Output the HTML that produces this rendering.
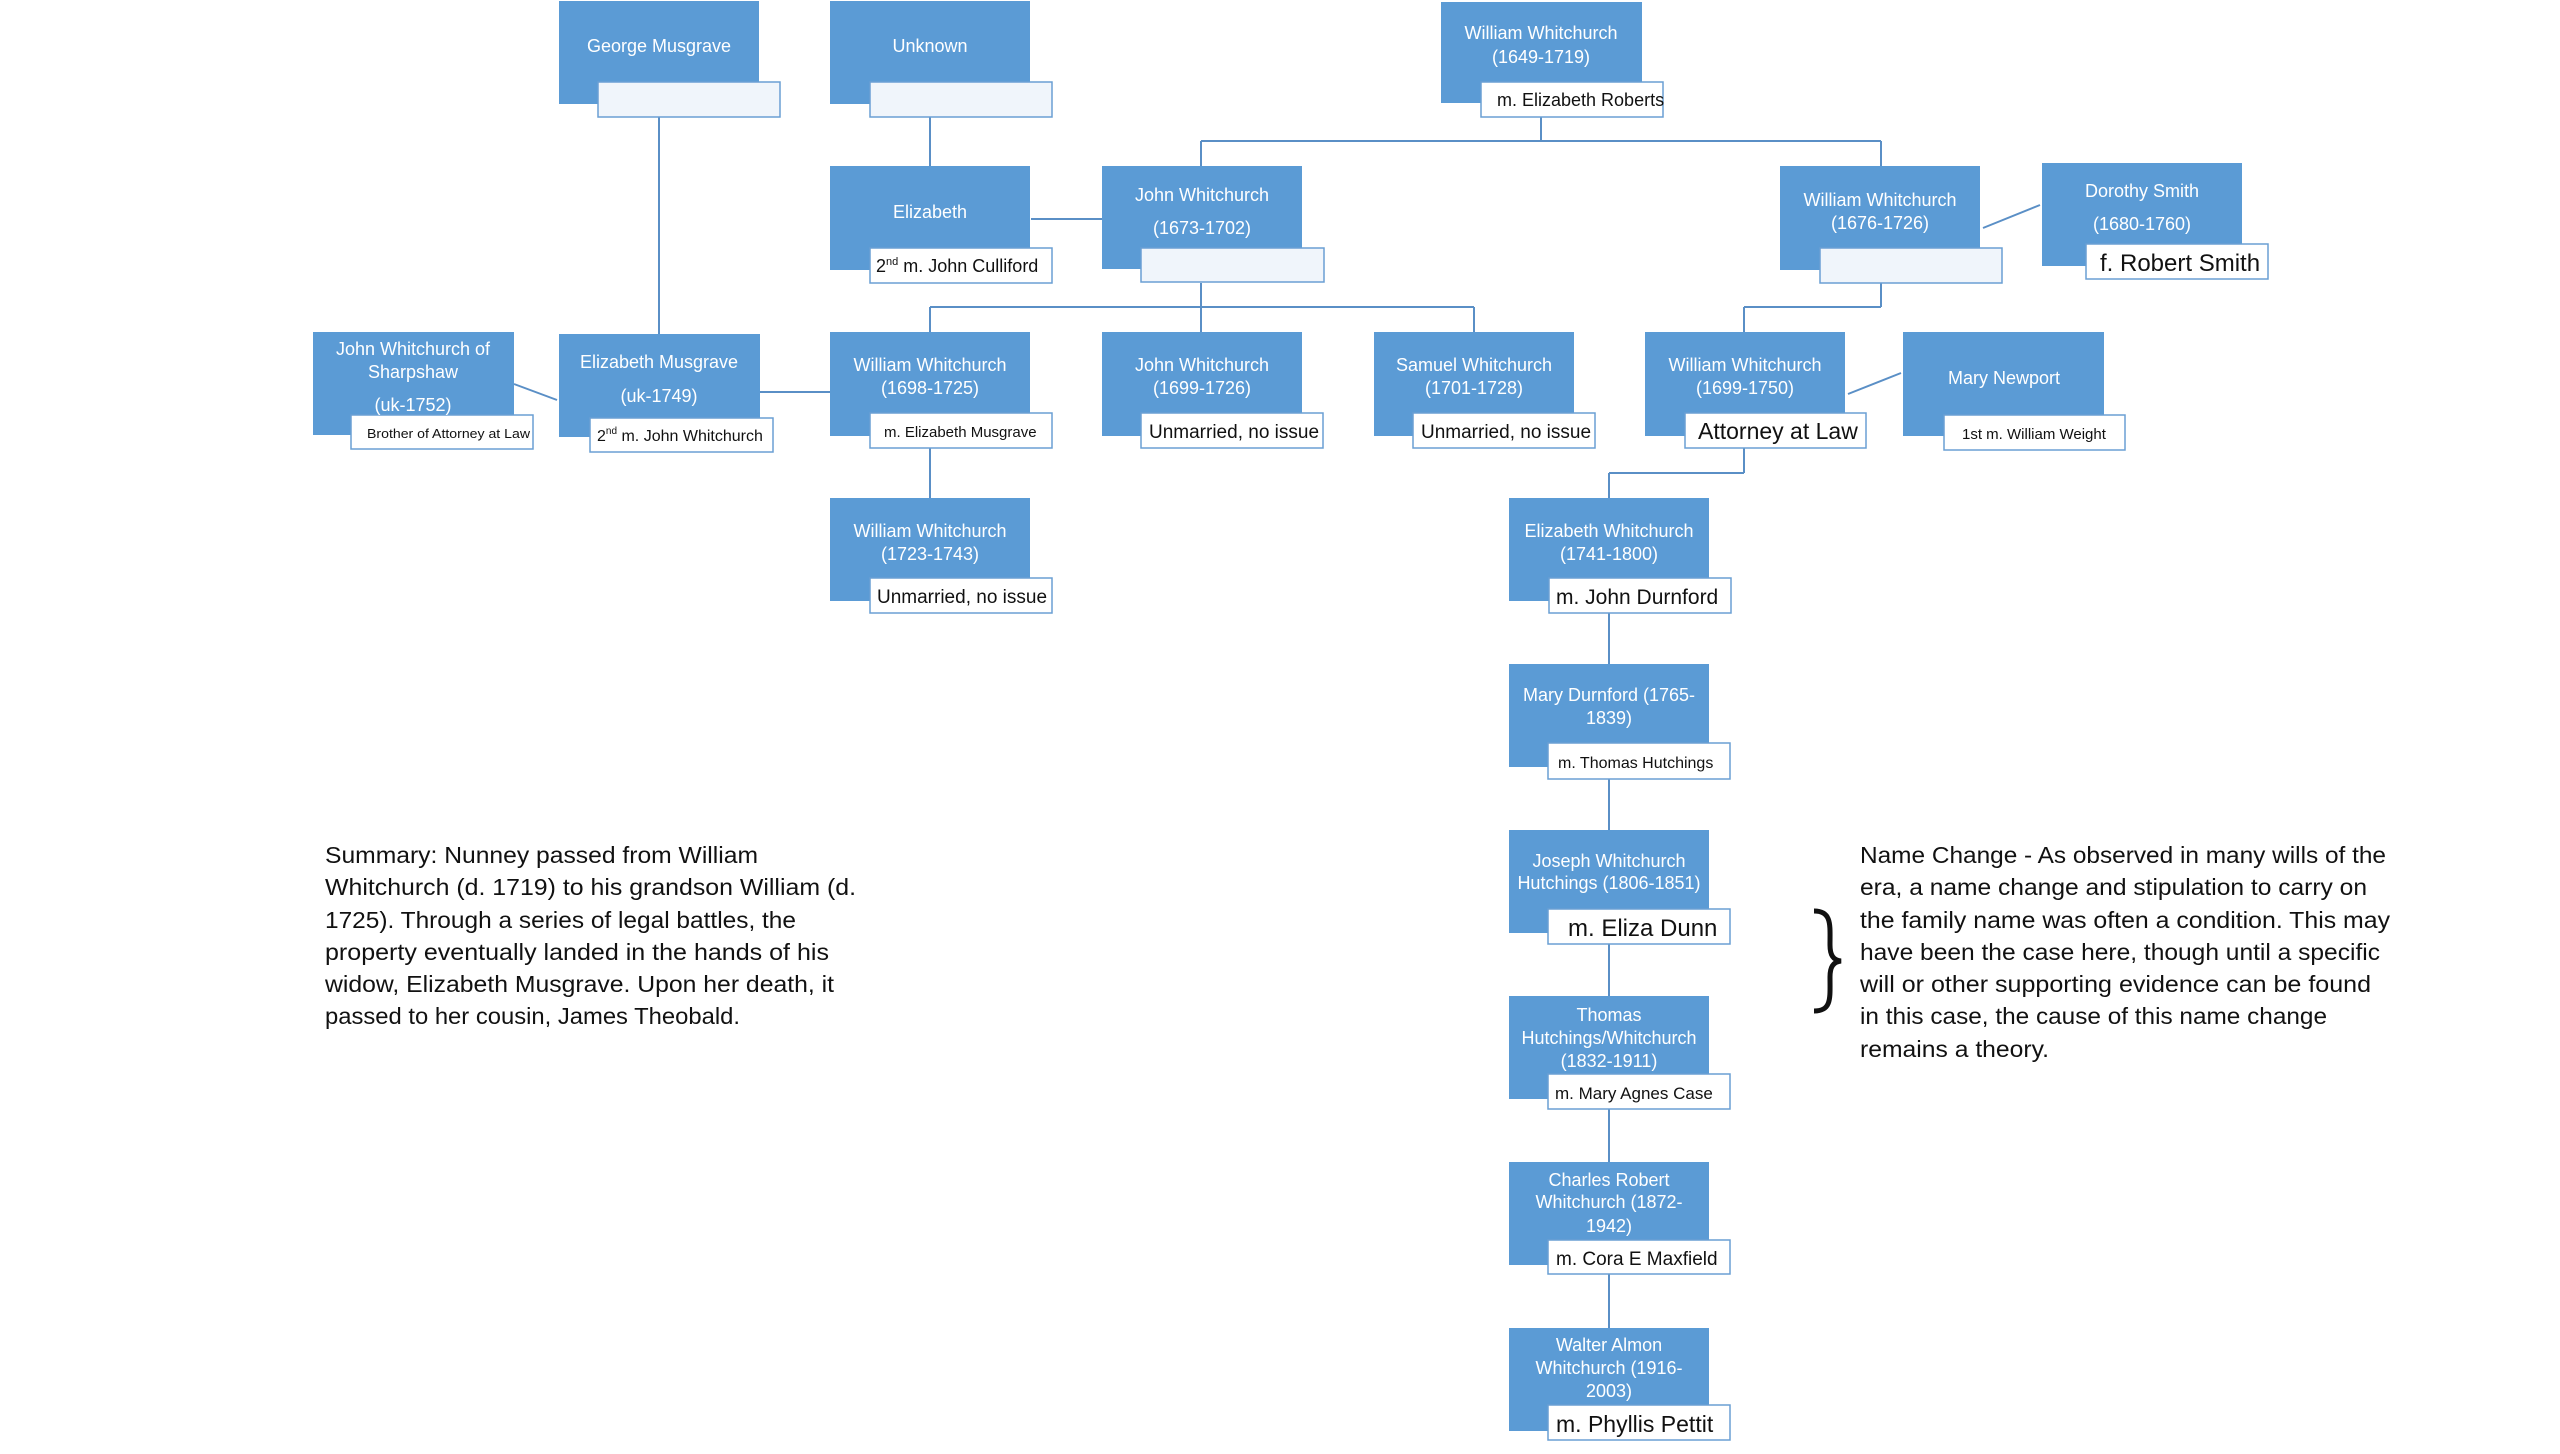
<!DOCTYPE html>
<html><head><meta charset="utf-8"><style>
html,body{margin:0;padding:0;background:#fff;}
svg{display:block}
.b{fill:#5b9bd5}
.l{fill:#fff;stroke:#6a9fd4;stroke-width:1.5}
.e{fill:#f0f5fb;stroke:#6a9fd4;stroke-width:1.5}
.w{fill:#fff;font-family:"Liberation Sans",sans-serif;font-size:18px;text-anchor:middle}
.k{fill:#111;font-family:"Liberation Sans",sans-serif;font-size:17px}
.c{stroke:#5a8fc6;stroke-width:2;fill:none}
.p{fill:#111;font-family:"Liberation Sans",sans-serif;font-size:23px}
</style></head><body>
<svg width="2560" height="1454" viewBox="0 0 2560 1454" xmlns="http://www.w3.org/2000/svg">
<path class="c" d="M659 117V334 M930 117V166 M1031 219H1102 M1541 117V141 M1201 141H1881 M1201 141V166 M1881 141V166
M1201 283V332 M930 307H1474 M930 307V332 M1474 307V332 M1881 283V307 M1744 307H1881 M1744 307V332
M759 392H830 M514 384L557 400 M1983 228L2040 205 M1848 394L1901 373
M930 448V498 M1744 448V473 M1609 473H1744 M1609 473V498
M1609 613V664 M1609 779V830 M1609 944V996 M1609 1109V1162 M1609 1274V1328"/>
<!-- Row1 -->
<rect class="b" x="559" y="1" width="200" height="103"/><rect class="e" x="598" y="82" width="182" height="35"/>
<text class="w" x="659" y="52">George Musgrave</text>
<rect class="b" x="830" y="1" width="200" height="103"/><rect class="e" x="870" y="82" width="182" height="35"/>
<text class="w" x="930" y="52">Unknown</text>
<rect class="b" x="1441" y="2" width="201" height="101"/><rect class="l" x="1481" y="82" width="182" height="35"/>
<text class="w" x="1541" y="39">William Whitchurch</text><text class="w" x="1541" y="63">(1649-1719)</text>
<text class="k" x="1497" y="106" style="font-size:18px">m. Elizabeth Roberts</text>
<!-- Row2 -->
<rect class="b" x="830" y="166" width="200" height="104"/><rect class="l" x="870" y="248" width="182" height="35"/>
<text class="w" x="930" y="218">Elizabeth</text>
<text class="k" x="876" y="272" style="font-size:18px">2<tspan font-size="11" dy="-7">nd</tspan><tspan dy="7"> m. John Culliford</tspan></text>
<rect class="b" x="1102" y="166" width="200" height="103"/><rect class="e" x="1141" y="248" width="183" height="34"/>
<text class="w" x="1202" y="201">John Whitchurch</text><text class="w" x="1202" y="234">(1673-1702)</text>
<rect class="b" x="1780" y="166" width="200" height="104"/><rect class="e" x="1820" y="248" width="182" height="35"/>
<text class="w" x="1880" y="206">William Whitchurch</text><text class="w" x="1880" y="229">(1676-1726)</text>
<rect class="b" x="2042" y="163" width="200" height="103"/><rect class="l" x="2086" y="244" width="182" height="35"/>
<text class="w" x="2142" y="197">Dorothy Smith</text><text class="w" x="2142" y="230">(1680-1760)</text>
<text class="k" x="2100" y="271" style="font-size:24px">f. Robert Smith</text>
<!-- Row3 -->
<rect class="b" x="313" y="332" width="201" height="103"/><rect class="l" x="351" y="415" width="182" height="34"/>
<text class="w" x="413" y="355">John Whitchurch of</text><text class="w" x="413" y="378">Sharpshaw</text><text class="w" x="413" y="411">(uk-1752)</text>
<text class="k" x="367" y="438" style="font-size:13px" textLength="163" lengthAdjust="spacingAndGlyphs">Brother of Attorney at Law</text>
<rect class="b" x="559" y="334" width="201" height="103"/><rect class="l" x="590" y="418" width="183" height="34"/>
<text class="w" x="659" y="368">Elizabeth Musgrave</text><text class="w" x="659" y="402">(uk-1749)</text>
<text class="k" x="597" y="441" style="font-size:16px">2<tspan font-size="10" dy="-7">nd</tspan><tspan dy="7"> m. John Whitchurch</tspan></text>
<rect class="b" x="830" y="332" width="200" height="104"/><rect class="l" x="870" y="413" width="182" height="35"/>
<text class="w" x="930" y="371">William Whitchurch</text><text class="w" x="930" y="394">(1698-1725)</text>
<text class="k" x="884" y="437" style="font-size:15px">m. Elizabeth Musgrave</text>
<rect class="b" x="1102" y="332" width="200" height="104"/><rect class="l" x="1141" y="413" width="182" height="35"/>
<text class="w" x="1202" y="371">John Whitchurch</text><text class="w" x="1202" y="394">(1699-1726)</text>
<text class="k" x="1149" y="438" style="font-size:19px">Unmarried, no issue</text>
<rect class="b" x="1374" y="332" width="200" height="104"/><rect class="l" x="1413" y="413" width="182" height="35"/>
<text class="w" x="1474" y="371">Samuel Whitchurch</text><text class="w" x="1474" y="394">(1701-1728)</text>
<text class="k" x="1421" y="438" style="font-size:19px">Unmarried, no issue</text>
<rect class="b" x="1645" y="332" width="200" height="104"/><rect class="l" x="1685" y="413" width="181" height="35"/>
<text class="w" x="1745" y="371">William Whitchurch</text><text class="w" x="1745" y="394">(1699-1750)</text>
<text class="k" x="1698" y="439" style="font-size:23px">Attorney at Law</text>
<rect class="b" x="1903" y="332" width="201" height="104"/><rect class="l" x="1944" y="415" width="181" height="35"/>
<text class="w" x="2004" y="384">Mary  Newport</text>
<text class="k" x="1962" y="439" style="font-size:15px">1st m. William Weight</text>
<!-- Row4 -->
<rect class="b" x="830" y="498" width="200" height="103"/><rect class="l" x="870" y="578" width="182" height="35"/>
<text class="w" x="930" y="537">William Whitchurch</text><text class="w" x="930" y="560">(1723-1743)</text>
<text class="k" x="877" y="603" style="font-size:19px">Unmarried, no issue</text>
<rect class="b" x="1509" y="498" width="200" height="103"/><rect class="l" x="1549" y="578" width="182" height="35"/>
<text class="w" x="1609" y="537">Elizabeth Whitchurch</text><text class="w" x="1609" y="560">(1741-1800)</text>
<text class="k" x="1556" y="604" style="font-size:21px">m. John Durnford</text>
<!-- column -->
<rect class="b" x="1509" y="664" width="200" height="103"/><rect class="l" x="1548" y="743" width="182" height="36"/>
<text class="w" x="1609" y="701">Mary Durnford (1765-</text><text class="w" x="1609" y="724">1839)</text>
<text class="k" x="1558" y="768" style="font-size:16px">m. Thomas Hutchings</text>
<rect class="b" x="1509" y="830" width="200" height="103"/><rect class="l" x="1548" y="909" width="182" height="35"/>
<text class="w" x="1609" y="867">Joseph Whitchurch</text><text class="w" x="1609" y="889">Hutchings (1806-1851)</text>
<text class="k" x="1568" y="936" style="font-size:24px">m. Eliza Dunn</text>
<rect class="b" x="1509" y="996" width="200" height="103"/><rect class="l" x="1548" y="1074" width="182" height="35"/>
<text class="w" x="1609" y="1021">Thomas</text><text class="w" x="1609" y="1044">Hutchings/Whitchurch</text><text class="w" x="1609" y="1067">(1832-1911)</text>
<text class="k" x="1555" y="1099" style="font-size:17px">m. Mary Agnes Case</text>
<rect class="b" x="1509" y="1162" width="200" height="103"/><rect class="l" x="1548" y="1240" width="182" height="34"/>
<text class="w" x="1609" y="1186">Charles Robert</text><text class="w" x="1609" y="1208">Whitchurch (1872-</text><text class="w" x="1609" y="1232">1942)</text>
<text class="k" x="1556" y="1265" style="font-size:19px">m. Cora E Maxfield</text>
<rect class="b" x="1509" y="1328" width="200" height="103"/><rect class="l" x="1548" y="1405" width="182" height="35"/>
<text class="w" x="1609" y="1351">Walter Almon</text><text class="w" x="1609" y="1374">Whitchurch (1916-</text><text class="w" x="1609" y="1397">2003)</text>
<text class="k" x="1556" y="1432" style="font-size:23px">m. Phyllis Pettit</text>
<!-- summary -->
<text class="p" x="325" y="863" textLength="433" lengthAdjust="spacingAndGlyphs">Summary: Nunney passed from William</text>
<text class="p" x="325" y="895" textLength="531" lengthAdjust="spacingAndGlyphs">Whitchurch (d. 1719) to his grandson William (d.</text>
<text class="p" x="325" y="928" textLength="471" lengthAdjust="spacingAndGlyphs">1725). Through a series of legal battles, the</text>
<text class="p" x="325" y="960" textLength="504" lengthAdjust="spacingAndGlyphs">property eventually landed in the hands of his</text>
<text class="p" x="325" y="992" textLength="509" lengthAdjust="spacingAndGlyphs">widow, Elizabeth Musgrave. Upon her death, it</text>
<text class="p" x="325" y="1024" textLength="415" lengthAdjust="spacingAndGlyphs">passed to her cousin, James Theobald.</text>
<path d="M1814 911 C1832 911 1830 925 1830 945 C1830 955 1833 960 1841 961 C1833 962 1830 967 1830 977 C1830 998 1832 1011 1814 1011" fill="none" stroke="#111" stroke-width="5"/>
<text class="p" x="1860" y="863" textLength="526" lengthAdjust="spacingAndGlyphs">Name Change - As observed in many wills of the</text>
<text class="p" x="1860" y="895" textLength="507" lengthAdjust="spacingAndGlyphs">era, a name change and stipulation to carry on</text>
<text class="p" x="1860" y="928" textLength="530" lengthAdjust="spacingAndGlyphs">the family name was often a condition. This may</text>
<text class="p" x="1860" y="960" textLength="520" lengthAdjust="spacingAndGlyphs">have been the case here, though until a specific</text>
<text class="p" x="1860" y="992" textLength="511" lengthAdjust="spacingAndGlyphs">will or other supporting evidence can be found</text>
<text class="p" x="1860" y="1024" textLength="467" lengthAdjust="spacingAndGlyphs">in this case, the cause of this name change</text>
<text class="p" x="1860" y="1057" textLength="189" lengthAdjust="spacingAndGlyphs">remains a theory.</text>
</svg>
</body></html>
